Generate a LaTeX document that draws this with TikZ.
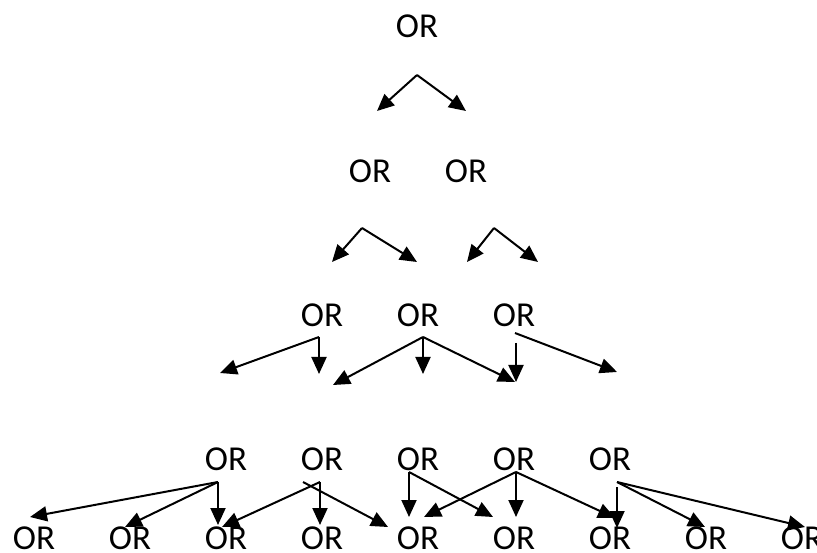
\documentclass[tikz,border=0pt]{standalone}
\usepackage{fontspec}
\setmainfont{Carlito}
\usetikzlibrary{arrows.meta, positioning}

\begin{document}
\begin{tikzpicture}[x=1pt, y=-1pt, node distance=96pt, on grid,
    gate/.style={inner sep=0pt, font=\fontsize{35}{42}\selectfont},
    arr/.style={-{Triangle[length=17pt, width=15pt]}, line width=2pt}]
  \useasboundingbox (0,0) rectangle (817,553);
  % gates, row by row
  \node[gate] (0) at (417,26) {OR};
  \node[gate] (1) at (370,171) {OR};
  \node[gate] (2) [right=of 1] {OR};
  \node[gate] (3) at (322,315) {OR};
  \node[gate] (4) [right=of 3] {OR};
  \node[gate] (5) [right=of 4] {OR};
  \node[gate] (6) at (226,459) {OR};
  \node[gate] (7) [right=of 6] {OR};
  \node[gate] (8) [right=of 7] {OR};
  \node[gate] (9) [right=of 8] {OR};
  \node[gate] (10) [right=of 9] {OR};
  \node[gate] (11) at (34,538) {OR};
  \node[gate] (12) [right=of 11] {OR};
  \node[gate] (13) [right=of 12] {OR};
  \node[gate] (14) [right=of 13] {OR};
  \node[gate] (15) [right=of 14] {OR};
  \node[gate] (16) [right=of 15] {OR};
  \node[gate] (17) [right=of 16] {OR};
  \node[gate] (18) [right=of 17] {OR};
  \node[gate] (19) [right=of 18] {OR};
  % arrow starts and tips
  \coordinate (a0) at (417,75);
  \coordinate (t0) at (377,111);
  \coordinate (t1) at (466,111);
  \coordinate (a1) at (362,228);
  \coordinate (t2) at (332,262);
  \coordinate (t3) at (417,262);
  \coordinate (a2) at (494,228);
  \coordinate (t4) at (467,262);
  \coordinate (t5) at (538,262);
  \coordinate (a3) at (319,337);
  \coordinate (t6) at (220,373);
  \coordinate (t7) at (319,374);
  \coordinate (a4) at (423,337);
  \coordinate (t8) at (333,385);
  \coordinate (t9) at (423,374);
  \coordinate (t10) at (515,382);
  \coordinate (a5) at (516,343);
  \coordinate (t11) at (516,382);
  \coordinate (a6) at (515,333);
  \coordinate (t12) at (617,372);
  \coordinate (a7) at (218,482);
  \coordinate (t13) at (30,517);
  \coordinate (t14) at (125,527);
  \coordinate (t15) at (218,525);
  \coordinate (a8) at (320,482);
  \coordinate (t16) at (222,527);
  \coordinate (t17) at (320,525);
  \coordinate (a9) at (303,482);
  \coordinate (t18) at (388,527);
  \coordinate (a10) at (409,472);
  \coordinate (t19) at (409,517);
  \coordinate (t20) at (493,517);
  \coordinate (a11) at (516,472);
  \coordinate (t21) at (424,517);
  \coordinate (t22) at (516,517);
  \coordinate (t23) at (615,518);
  \coordinate (a12) at (617,482);
  \coordinate (t24) at (705,527);
  \coordinate (t25) at (805,527);
  \coordinate (a13) at (617,487);
  \coordinate (t26) at (617,528);
  % arrows
  \foreach \s/\t in {a0/t0, a0/t1, a1/t2, a1/t3, a2/t4, a2/t5,
      a3/t6, a3/t7, a4/t8, a4/t9, a4/t10, a5/t11, a6/t12,
      a7/t13, a7/t14, a7/t15, a8/t16, a8/t17, a9/t18,
      a10/t19, a10/t20, a11/t21, a11/t22, a11/t23,
      a12/t24, a12/t25, a13/t26}
    \draw[arr] (\s) -- (\t);
\end{tikzpicture}
\end{document}
